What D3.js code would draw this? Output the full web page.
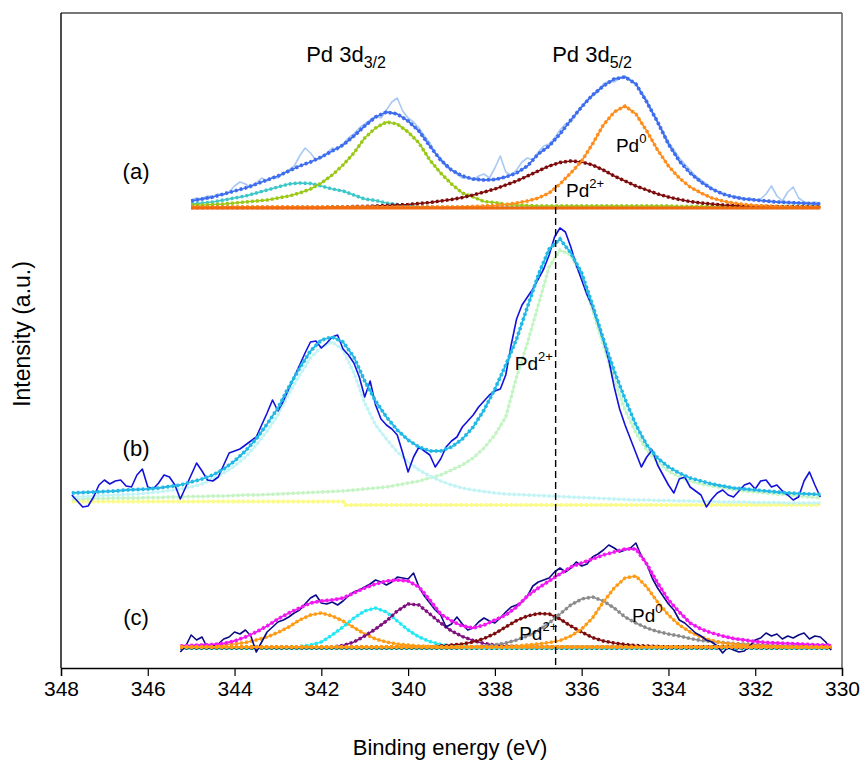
<!DOCTYPE html>
<html>
<head>
<meta charset="utf-8">
<script src="https://cdn.jsdelivr.net/npm/d3@7"></script>
<style>
  body { margin: 0; background: #fff; }
  text { font-family: "Liberation Sans", Arial, sans-serif; fill: #000; }
</style>
</head>
<body>
<svg id="chart" width="864" height="764"></svg>
<script>
// ---- Binding-energy axis ----
const xTicks = [348, 346, 344, 342, 340, 338, 336, 334, 332, 330];
const referenceLineEnergy = 336.6;

// vertical stacking offsets of the three spectra (a.u.)
const panelNames = ["(a)", "(b)", "(c)"];
const panelOffsets = [460, 163, 20];

// ---- Spectrum (a) : fitted components on a 0.25 eV grid from 345.0 eV ----
const aFitStart = 345.0, aFitStep = 0.25;
const aEnvelope = [7,9,11,14,17,20,24,28,32,37,42,46,51,57,63,72,82,91,96,94,87,77,62,48,38,32,29,28,28.5,31,35,42,54,62,74,88,101,113,122,129,131,124,106,86,64,47,35,26,19,14,11,9,8,7,6,5.5,5,4.5,4];
const aPd32Minor = [4,5,6,8,10,12,15,18,21,24,25,24.5,22,19,17,13,9,7.5,5,3.5,2.5,1.5,1,0.5,0.5,0.5,0.5,0.5,0.5,0.5,0.5,0.5,0.5,0.5,0.5,0.5,0.5,0.5,0.5,0.5,0.5,0.5,0.5,0.5,0.5,0.5,0.5,0.5,0.5,0.5,0.5,0.5,0.5,0.5,0.5,0.5,0.5,0.5,0.5];
const aPd32Major = [3,3,3.5,4,5,6,7,8,10,12,15,19,25,33,43,55,70,80,86,84,76,65,48,35,24,15,11,6.5,5.5,3.5,3,2.5,2,2,2,2,2,2,2,2,2,2,2,2,2,1.5,1.5,1.5,1.5,1.5,1.5,1.5,1.5,1.5,1.5,1.5,1.5,1.5,1.5];
const aPd2plus = [0.5,0.5,0.5,0.5,0.5,0.5,0.5,0.5,0.5,0.5,0.5,0.5,0.5,1,1,1.5,1.5,2,2.5,3,3.5,4.5,5.5,7,8.5,10.5,13,16,19,23,27,32,37,42,45.5,47,46,43,38,32,27,22,18,14,11,8.5,6.5,5,4,3,2.5,2,1.5,1.5,1,1,1,1,1];
const aPd0 = [1,1,1,1,1,1,1,1,1,1,1,1,1,1,1,1,1,1,1,1,1,1,1,1,1,1.2,1.5,2,2.5,3.5,5,7,10,15,24,35,47,64,83,96,102,94,77,58,42,30,21,15,10,7,5,3.5,2.5,2,1.5,1.2,1,1,1];
const aBaselineEnergy = [345.0, 330.5];
const aBaseline = [0, 0];

// measured trace (a) on a 0.125 eV grid from 345.0 eV
const aRawStart = 345.0, aRawStep = 0.125;
const aRaw = [8,10,9,12,11,14,13,16,22,26,24,20,25,30,27,31,30,35,38,42,52,60,55,48,50,55,60,58,64,70,74,80,84,88,92,90,98,106,110,97,90,86,80,72,65,55,50,41,38,34,30,30,28,32,34,30,40,52,36,33,38,46,50,48,56,62,64,70,78,84,86,94,102,108,112,116,124,127,126,130,132,128,124,116,108,96,86,76,66,58,50,44,38,32,28,24,20,17,15,13,12,11,9,10,8,9,14,22,12,7,16,21,10,6,5,6,5];

// ---- Spectrum (b) : 0.25 eV grid from 347.75 eV ----
const bFitStart = 347.75, bFitStep = 0.25;
const bEnvelope = [12,12.5,13,13.5,14,15,15.5,16,17,18.5,20,23,26,30,36,44,54,66,81,97,118,137,154,165,168,163,148,124,104,88,75,65,58,54,54,58,66,78,95,116,140,166,198,230,256,266,252,232,200,166,134,106,80,60,47,38,32,27,24,21,19,17,16,15,14,13,12,11.5,11,10.5];
const bPd32 = [8,8.5,9,9.5,10,10.5,11,12,13,14.5,16,18,21,26,32,39,48,60,74,90,111,130,147,158,163,155,132,102,80,66,53,43,35,29,24,20,17,15,13.5,12,11,10.5,10,9.5,9,8.5,8,7.5,7,6.5,6,5.5,5,5,4.5,4.5,4,4,3.5,3.5,3,3,3,2.5,2.5,2.5,2,2,2,2];
const bPd52 = [6,6,6.5,6.5,7,7,7,7.5,7.5,8,8,8.5,8.5,9,9,9.5,10,10,10.5,11,11.5,12,12.5,13,13.5,14,15,16,17,18,20,22,24,27,30,35,40,47,57,70,88,128,162,200,238,255,250,228,195,160,125,95,72,55,43,34,28,24,21,19,17,15.5,14,13,12,11,10,9,8,7];
const bBaselineEnergy = [347.75, 341.5, 341.45, 330.5];
const bBaseline = [3.5, 3.5, 0, 0];

// measured trace (b) on a 0.125 eV grid from 347.75 eV
const bRawStart = 347.75, bRawStep = 0.125;
const bRaw = [10,4,-2,-1,8,20,25,21,24,25,19,18,30,36,18,16,22,30,28,20,6,18,30,42,34,25,24,28,40,52,54,56,60,64,68,80,92,105,94,104,116,128,140,152,163,164,157,162,168,170,156,150,142,128,108,124,100,86,80,76,70,52,33,48,58,54,50,38,46,58,64,68,78,84,90,98,104,110,114,116,130,160,186,200,208,216,226,236,250,268,277,273,258,240,225,210,198,182,165,145,118,96,80,66,52,38,48,55,40,30,20,12,26,28,18,14,10,-2,6,12,15,10,8,14,20,22,16,24,25,18,20,14,10,5,8,24,33,20,8];

// ---- Spectrum (c) : 0.25 eV grid from 345.25 eV ----
const cFitStart = 345.25, cFitStep = 0.25;
const cEnvelope = [2,2.5,3,3.5,4.5,7,11,16,22,29,35,40,45,47,48,50,55,60,64,67,68,67,61,48,34,27,22,20,23,28,33,41,52,60,67,74,81,85,89,93,96,99,99,84,65,48,36,25,19,15,12,9.5,8,6.5,5.5,5,4.5,4,3.5,3,3];
const cPd32Metal = [1,1.5,2,2.5,3,4,5.5,8,11,15.5,21,28,33,35,32,27,20.5,14,9,6,4,3,2,1.5,1,1,1,1,1,1,1,1,1,1,1,1,1,1,1,1,1,1,1,1,1,1,1,1,1,1,1,1,1,1,1,1,1,1,1,1,1];
const cPd32Mid = [1,1,1,1,1,1,1,1,1,1,1,1.5,3,6,13,21,30,37,40,36,27,18,11,6.5,3.5,2,1,0.5,0.5,0.5,0.5,0.5,0.5,0.5,0.5,0.5,0.5,0.5,0.5,0.5,0.5,0.5,0.5,0.5,0.5,0.5,0.5,0.5,0.5,0.5,0.5,0.5,0.5,0.5,0.5,0.5,0.5,0.5,0.5,0.5,0.5];
const cPd32Ox = [1,1,1,1,1,1,1,1,1,1,1,1,1,1,1,2.5,6,12,19,27,37,44,43,34,25,17,11.5,7.5,4.5,3,2,1.5,1,1,1,1,1,1,1,1,1,1,1,1,1,1,1,1,1,1,1,1,1,1,1,1,1,1,1,1,1];
const cPd2plus = [1,1,1,1,1,1,1,1,1,1,1,1,1,1,1,1,1,1,1,1,1,1,1,1,2,3,4,6,9.5,14.5,21,27.5,32,34.5,34,29,22,16,10.5,7,5,3.5,2.5,2,1.5,1,1,1,1,1,1,1,1,1,1,1,1,1,1,1,1];
const cPdMid = [1,1,1,1,1,1,1,1,1,1,1,1,1,1,1,1,1,1,1,1,1,1,1,1,1,1,1,1,2,3,5,8,12,17.5,25,34,43,49,51,47,40,31,25,20,16.5,14,12,9.5,7.5,6.5,5.5,4.5,4,3.5,3,2.5,2,2,1.5,1.5,1.3];
const cPd0 = [1,1,1,1,1,1,1,1,1,1,1,1,1,1,1,1,1,1,1,1,1,1,1,1,1,1,1,1,1,1,1.5,2,3,4,5.5,7.5,12,19,30,46,60,70,72,61,46,33,23,16,11,7.5,5,4,3,2.5,2,1.5,1,1,1,1,1];
const cBaselineEnergy = [345.25, 330.25];
const cBaseline = [0, 0];
const cOrangeBase = [1, 1];

// measured trace (c) on a 0.125 eV grid from 345.25 eV
const cRawStart = 345.25, cRawStep = 0.125;
const cRaw = [-4,2,13,8,11,0,2,4,9,11,16,14,18,12,-4,6,16,21,26,28,31,35,38,44,50,53,45,44,46,43,47,52,56,58,61,64,68,66,63,66,71,70,69,75,61,52,45,38,33,21,24,31,24,18,20,26,30,27,25,30,36,41,43,46,52,62,66,68,70,76,80,76,80,86,82,84,91,94,98,103,100,96,98,100,105,92,84,70,60,52,44,38,28,25,20,15,12,8,6,2,-5,1,-2,-4,-3,2,8,10,15,12,14,9,12,10,13,15,9,12,11,6,-2];

// ---- Annotation text ----
const peakTitles = [
  { base: "Pd 3d", sub: "3/2", energy: 342.35, value: 606 },
  { base: "Pd 3d", sub: "5/2", energy: 336.68, value: 606 }
];
const stateLabels = [
  { base: "Pd", sup: "0",  energy: 335.21, value: 516 },
  { base: "Pd", sup: "2+", energy: 336.36, value: 471 },
  { base: "Pd", sup: "2+", energy: 337.54, value: 298 },
  { base: "Pd", sup: "0",  energy: 334.84, value: 46 },
  { base: "Pd", sup: "2+", energy: 337.44, value: 28 }
];
const panelLabelEnergy = 346.27;
const panelLabelValues = [489, 212, 43];

// ------------------------------------------------------------------
const svg = d3.select("#chart");
const x = d3.scaleLinear().domain([348, 330]).range([61, 842]);
const y = d3.scaleLinear().domain([0, 655]).range([668, 13]);

function grid(start, step, n) {
  return d3.range(n).map(i => +(start - step * i).toFixed(4));
}
function pairs(energies, values, offset) {
  return values.map((v, i) => [energies[i], v + offset]);
}
const line = d3.line().x(d => x(d[0])).y(d => y(d[1]));

// draw a series: plain line, optionally with square markers along it
function series(g, pts, color, width, markers) {
  g.append("path").datum(pts)
    .attr("fill", "none").attr("stroke", color)
    .attr("stroke-width", width).attr("stroke-linejoin", "round")
    .attr("d", line);
  if (markers) {
    g.append("path").datum(pts)
      .attr("fill", "none").attr("stroke", color)
      .attr("stroke-width", width + 1.8)
      .attr("stroke-dasharray", "2.6 2.4")
      .attr("d", line);
  }
}

const plot = svg.append("g");

// (a)
{
  const off = panelOffsets[0];
  const fe = grid(aFitStart, aFitStep, aEnvelope.length);
  const re = grid(aRawStart, aRawStep, aRaw.length);
  series(plot, pairs(re, aRaw, off), "#a9c9f3", 1.6, false);
  series(plot, pairs(fe, aPd32Minor, off), "#3cc6c8", 1.6, true);
  series(plot, pairs(fe, aPd32Major, off), "#99c814", 1.6, true);
  series(plot, pairs(fe, aPd2plus, off), "#7d0a0a", 1.6, true);
  series(plot, pairs(fe, aPd0, off), "#ff8c1a", 1.6, true);
  series(plot, pairs(fe, aEnvelope, off), "#3e6cee", 1.8, true);
  series(plot, pairs(aBaselineEnergy, aBaseline, off), "#f26a10", 3, false);
}

// (b)
{
  const off = panelOffsets[1];
  const fe = grid(bFitStart, bFitStep, bEnvelope.length);
  const re = grid(bRawStart, bRawStep, bRaw.length);
  series(plot, pairs(bBaselineEnergy, bBaseline, off), "#fbfb8c", 2.2, true);
  series(plot, pairs(fe, bPd52, off), "#c4f4c4", 1.6, true);
  series(plot, pairs(fe, bPd32, off), "#c2f4f6", 1.6, true);
  series(plot, pairs(re, bRaw, off), "#1212dc", 1.6, false);
  series(plot, pairs(fe, bEnvelope, off), "#22b8e6", 1.8, true);
}

// (c)
{
  const off = panelOffsets[2];
  const fe = grid(cFitStart, cFitStep, cEnvelope.length);
  const re = grid(cRawStart, cRawStep, cRaw.length);
  series(plot, pairs(cBaselineEnergy, cBaseline, off), "#0f8080", 2.4, true);
  series(plot, pairs(fe, cPd32Metal, off), "#ff9a14", 1.6, true);
  series(plot, pairs(fe, cPd32Mid, off), "#22e8f4", 1.6, true);
  series(plot, pairs(fe, cPd32Ox, off), "#7e107e", 1.6, true);
  series(plot, pairs(fe, cPd2plus, off), "#7d0a0a", 1.6, true);
  series(plot, pairs(fe, cPdMid, off), "#8a8a8a", 1.6, true);
  series(plot, pairs(fe, cPd0, off), "#ff9a14", 1.6, true);
  series(plot, pairs(re, cRaw, off), "#0a0a86", 1.6, false);
  series(plot, pairs(fe, cEnvelope, off), "#f018f0", 1.8, true);
  series(plot, pairs(cBaselineEnergy, cOrangeBase, off), "#ff9a14", 2, true);
}

// reference line through the Pd2+ 3d5/2 position
svg.append("line")
  .attr("x1", x(referenceLineEnergy)).attr("x2", x(referenceLineEnergy))
  .attr("y1", y(483)).attr("y2", y(0))
  .attr("stroke", "#000").attr("stroke-width", 1.4)
  .attr("stroke-dasharray", "7 4");

// frame
svg.append("line").attr("x1", 61).attr("x2", 842).attr("y1", 13).attr("y2", 13)
  .attr("stroke", "#4a4a4a").attr("stroke-width", 1.6);
svg.append("line").attr("x1", 842).attr("x2", 842).attr("y1", 13).attr("y2", 668)
  .attr("stroke", "#6a6a6a").attr("stroke-width", 1.6);
svg.append("line").attr("x1", 61).attr("x2", 61).attr("y1", 13).attr("y2", 668)
  .attr("stroke", "#000").attr("stroke-width", 1.4);

// x axis
const xAxis = svg.append("g").attr("transform", `translate(0,${y(0)})`)
  .call(d3.axisBottom(x).tickValues(xTicks).tickSize(8).tickPadding(5)
    .tickFormat(d3.format("d")));
xAxis.select(".domain").attr("stroke", "#000").attr("stroke-width", 1.4);
xAxis.selectAll(".tick line").attr("stroke", "#000").attr("stroke-width", 1.2);
xAxis.selectAll(".tick text").attr("font-size", 21)
  .attr("font-family", '"Liberation Sans", Arial, sans-serif').attr("fill", "#000");

// axis titles
svg.append("text").attr("x", 450).attr("y", 755).attr("text-anchor", "middle")
  .attr("font-size", 22).text("Binding energy (eV)");
svg.append("text").attr("transform", "translate(30,334) rotate(-90)")
  .attr("text-anchor", "middle").attr("font-size", 23).text("Intensity (a.u.)");

// panel labels
panelNames.forEach((name, i) => {
  svg.append("text").attr("x", x(panelLabelEnergy)).attr("y", y(panelLabelValues[i]))
    .attr("text-anchor", "middle").attr("font-size", 22).text(name);
});

// peak titles with subscripts
peakTitles.forEach(t => {
  const tx = svg.append("text").attr("x", x(t.energy)).attr("y", y(t.value))
    .attr("font-size", 22);
  tx.append("tspan").text(t.base);
  tx.append("tspan").attr("font-size", 16).attr("dy", 6).text(t.sub);
});

// oxidation-state labels with superscripts
stateLabels.forEach(t => {
  const tx = svg.append("text").attr("x", x(t.energy)).attr("y", y(t.value))
    .attr("font-size", 19);
  tx.append("tspan").text(t.base);
  tx.append("tspan").attr("font-size", 13).attr("dy", -9).text(t.sup);
});
</script>
</body>
</html>
